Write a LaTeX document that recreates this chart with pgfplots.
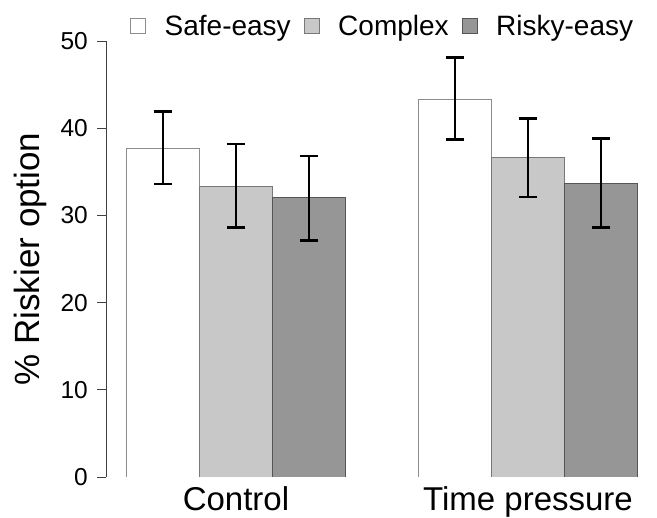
\documentclass[border=0pt]{standalone}
\usepackage{pgfplots}
\pgfplotsset{compat=1.18}
\usepackage{fontspec}
\setmainfont{Liberation Sans}
\definecolor{cx}{RGB}{200,200,200}
\definecolor{rk}{RGB}{150,150,150}
\definecolor{bsafe}{RGB}{140,140,140}
\definecolor{bcx}{RGB}{120,120,120}
\definecolor{brk}{RGB}{85,85,85}
\begin{document}
\begin{tikzpicture}
\useasboundingbox (-106bp,-41bp) rectangle (551bp,477bp);
\begin{axis}[
  anchor=south west, at={(0,0)},
  scale only axis, width=552bp, height=436bp,
  xmin=-0.28, xmax=7.28, ymin=0, ymax=50,
  axis y line*=left, axis x line*=bottom,
  x axis line style={draw=none},
  y axis line style={black!75, line width=0.9bp},
  xtick={1.5,5.5}, xticklabels={Control, Time pressure},
  x tick style={draw=none},
  ytick={0,10,20,30,40,50},
  y tick style={black!75, line width=0.9bp},
  tick align=outside, major tick length=9bp,
  /pgf/number format/assume math mode=true,
  yticklabel style={font=\fontsize{24.5bp}{29bp}\selectfont, inner xsep=0pt, xshift=-9bp},
  xticklabel style={font=\fontsize{33bp}{40bp}\selectfont, anchor=base, yshift=-24bp},
  ylabel={\% Riskier option},
  ylabel style={font=\fontsize{35bp}{42bp}\selectfont, at={(axis description cs:0,0.5)}, anchor=center, rotate=0, yshift=76bp},
  legend columns=3,
  legend style={draw=none, fill=none, at={(axis description cs:0,1)}, anchor=west, xshift=24bp, yshift=15bp,
    font=\fontsize{28bp}{33bp}\selectfont, inner sep=0pt,
    /tikz/every even column/.append style={column sep=11bp}},
  legend image code/.code={\draw[#1, line width=1bp] (0bp,-7.5bp) rectangle (15bp,7.5bp); \path[draw=none, fill=none] (15bp,0) -- (32bp,0);},
  error bars/y dir=both, error bars/y explicit,
  error bars/error bar style={black, line width=2.6bp},
  error bars/error mark options={rotate=90, mark size=9.3bp, line width=2.6bp, black},
]
\addplot[ybar, bar width=1, bar shift=0pt, fill=white, draw=bsafe, line width=1bp]
  coordinates {(0.5,37.7) += (0,4.2) -= (0,4.1) (4.5,43.3) += (0,4.8) -= (0,4.6)};
\addlegendentry{Safe-easy}
\addplot[ybar, bar width=1, bar shift=0pt, fill=cx, draw=bcx, line width=1bp]
  coordinates {(1.5,33.3) += (0,4.9) -= (0,4.7) (5.5,36.6) += (0,4.5) -= (0,4.5)};
\addlegendentry{Complex}
\addplot[ybar, bar width=1, bar shift=0pt, fill=rk, draw=brk, line width=1bp]
  coordinates {(2.5,32.0) += (0,4.8) -= (0,4.9) (6.5,33.7) += (0,5.1) -= (0,5.1)};
\addlegendentry{Risky-easy}
\end{axis}
\end{tikzpicture}
\end{document}
